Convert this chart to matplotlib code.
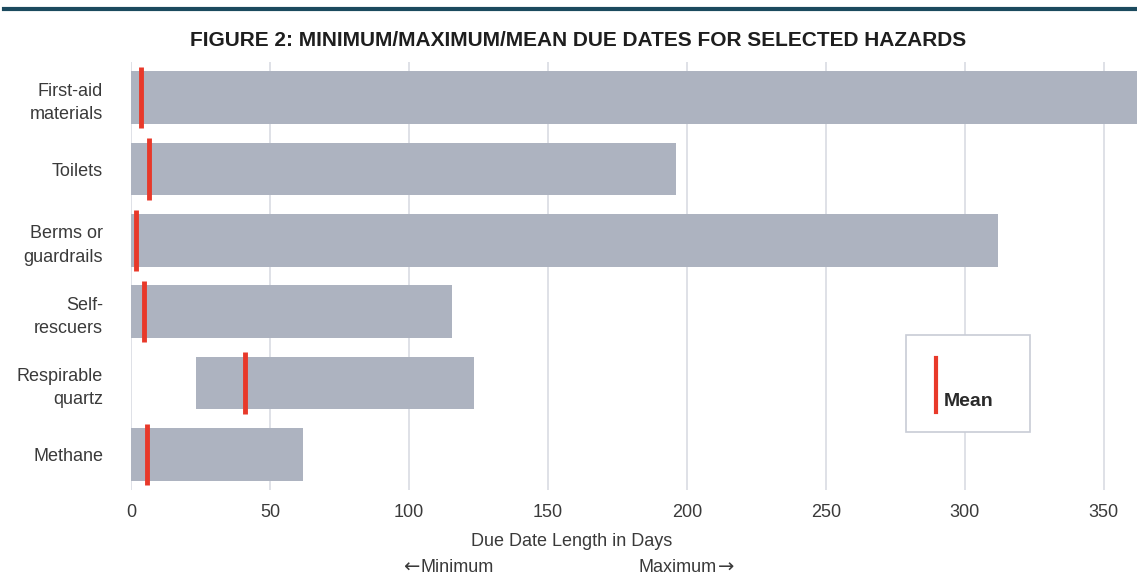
import matplotlib.pyplot as plt
from matplotlib.lines import Line2D

# hazards, top to bottom
hazards = ["First-aid\nmaterials", "Toilets", "Berms or\nguardrails",
           "Self-\nrescuers", "Respirable\nquartz", "Methane"]
min_days = [0, 0, 0, 0, 23.5, 0]
max_days = [365, 196, 312, 115.5, 123.5, 62]
mean_days = [3.5, 6.5, 1.8, 4.6, 41, 5.7]

plt.rcParams['font.family'] = ['Liberation Sans', 'DejaVu Sans']

bar_color = "#adb3c0"
red = "#e8392a"
grid_color = "#d9dce3"
text_color = "#3a3a3a"

fig = plt.figure(figsize=(11.37, 5.79), dpi=100)
ax = fig.add_axes([131 / 1137, 1 - 490 / 579, 1 - 131 / 1137, (490 - 62) / 579])

ypos = list(range(len(hazards)))
widths = [mx - mn for mn, mx in zip(min_days, max_days)]
ax.barh(ypos, widths, left=min_days, height=0.74, color=bar_color, zorder=2)
ax.vlines(mean_days, [y - 0.43 for y in ypos], [y + 0.43 for y in ypos],
          color=red, linewidth=3.5, zorder=3)

ax.set_xlim(0, 362)
ax.set_ylim(5.5, -0.5)
ax.set_xticks([0, 50, 100, 150, 200, 250, 300, 350])
ax.set_yticks(ypos)
ax.set_yticklabels(hazards, ha="right", multialignment="right", linespacing=1.5)
ax.tick_params(axis="both", length=0, labelsize=13, colors=text_color)
ax.tick_params(axis="y", pad=20)
ax.tick_params(axis="x", pad=10)
ax.xaxis.grid(True, color=grid_color, linewidth=1.2, zorder=0)
for s in ax.spines.values():
    s.set_visible(False)

fig.text(578 / 1137, 1 - 40 / 579, "FIGURE 2: MINIMUM/MAXIMUM/MEAN DUE DATES FOR SELECTED HAZARDS",
         ha="center", va="center", fontsize=15, fontweight="bold", color="#1e1e1e")
fig.text(572 / 1137, 1 - 542 / 579, "Due Date Length in Days", ha="center", va="center",
         fontsize=13, color=text_color)

# min / max direction hints
fig.text(403 / 1137, 1 - 567 / 579, "\u2190", ha="left", va="center",
         fontsize=14, color=text_color, family="DejaVu Sans")
fig.text(421 / 1137, 1 - 567 / 579, "Minimum", ha="left", va="center",
         fontsize=13, color=text_color)
fig.text(717 / 1137, 1 - 567 / 579, "Maximum", ha="right", va="center",
         fontsize=13, color=text_color)
fig.text(718 / 1137, 1 - 567 / 579, "\u2192", ha="left", va="center",
         fontsize=14, color=text_color, family="DejaVu Sans")

# top rule
fig.add_artist(Line2D([4 / 1137, 1], [1 - 9 / 579, 1 - 9 / 579], color="#1b4a5e", linewidth=3))

# legend box
lx0, lx1, ly0, ly1 = 906 / 1137, 1030 / 1137, 1 - 432 / 579, 1 - 335 / 579
fig.add_artist(plt.Rectangle((lx0, ly0), lx1 - lx0, ly1 - ly0, facecolor="white",
                             edgecolor="#c8ccd6", linewidth=1.2, zorder=5))
fig.add_artist(Line2D([936 / 1137] * 2, [1 - 358 / 579, 1 - 412 / 579], color=red,
                      linewidth=3, zorder=6))
fig.text(944 / 1137, 1 - 402 / 579, "Mean", ha="left", va="center", fontsize=14,
         fontweight="bold", color="#2a2a2a", zorder=6)

fig.savefig("out.png", dpi=100)
